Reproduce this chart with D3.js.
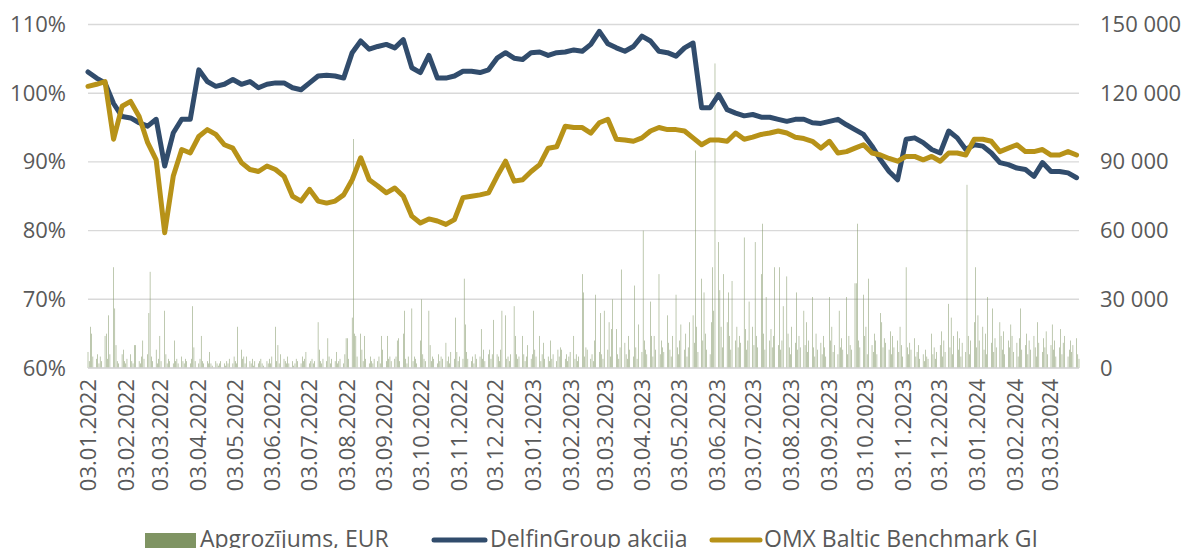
<!DOCTYPE html>
<html>
<head>
<meta charset="utf-8">
<script src="https://cdn.jsdelivr.net/npm/d3@7"></script>
<style>
  body { margin: 0; background: #fff; }
  svg { display: block; font-family: "Open Sans", sans-serif; }
</style>
</head>
<body>
<svg id="chart" width="1184" height="548"></svg>
<script>
var startDate = new Date(2022, 0, 3);
var endDate = new Date(2024, 2, 27);

// weekly level, % of 03.01.2022, one value every 7 days from startDate
var delfinPct = [
  103.1, 102.2, 101.5, 98.5, 96.6, 96.4, 95.7, 95.2, 96.2, 89.4,
  94.2, 96.2, 96.2, 103.4, 101.7, 101.0, 101.3, 102.0, 101.3, 101.7,
  100.8, 101.3, 101.5, 101.5, 100.8, 100.5, 101.5, 102.5, 102.6, 102.5,
  102.2, 105.9, 107.6, 106.4, 106.8, 107.1, 106.6, 107.8, 103.7, 103.0,
  105.5, 102.2, 102.2, 102.5, 103.2, 103.2, 103.0, 103.4, 105.1, 105.9,
  105.1, 104.9, 105.9, 106.0, 105.5, 105.9, 106.0, 106.3, 106.1, 107.1,
  109.0, 107.2, 106.6, 106.1, 106.8, 108.3, 107.6, 106.1, 105.9, 105.4,
  106.6, 107.3, 97.9, 97.9, 99.8, 97.6, 97.1, 96.7, 96.9, 96.5,
  96.5, 96.2, 95.9, 96.2, 96.2, 95.7, 95.6, 95.9, 96.2, 95.4,
  94.7, 94.0, 92.3, 90.3, 88.6, 87.4, 93.3, 93.5, 92.8, 91.8,
  91.3, 94.5, 93.5, 91.8, 92.5, 92.3, 91.3, 89.9, 89.6, 89.1,
  88.9, 87.9, 89.9, 88.6, 88.6, 88.4, 87.7
];

var omxPct = [
  101.0, 101.3, 101.7, 93.3, 98.1, 98.8, 96.6, 92.8, 90.3, 79.7,
  87.9, 91.8, 91.3, 93.7, 94.7, 94.0, 92.5, 92.0, 89.9, 88.9,
  88.6, 89.4, 88.9, 87.9, 85.0, 84.3, 86.0, 84.3, 84.0, 84.3,
  85.2, 87.4, 90.6, 87.4, 86.5, 85.5, 86.2, 85.0, 82.1, 81.1,
  81.7, 81.4, 80.9, 81.6, 84.8, 85.0, 85.2, 85.5, 87.9, 90.1,
  87.2, 87.4, 88.6, 89.6, 92.0, 92.2, 95.2, 95.0, 95.0, 94.2,
  95.7, 96.2, 93.3, 93.2, 93.0, 93.5, 94.5, 95.0, 94.7, 94.7,
  94.5, 93.5, 92.5, 93.2, 93.2, 93.0, 94.2, 93.3, 93.6, 94.0,
  94.2, 94.5, 94.2, 93.6, 93.4, 93.0, 92.0, 93.0, 91.3, 91.5,
  92.0, 92.5, 91.3, 91.0, 90.5, 90.1, 90.8, 90.8, 90.3, 90.8,
  90.1, 91.3, 91.3, 91.0, 93.3, 93.3, 93.0, 91.5, 92.0, 92.5,
  91.5, 91.5, 91.8, 91.0, 91.0, 91.5, 91.0
];

// daily turnover, thousand EUR, one per trading day (Mon-Fri) from startDate
var turnoverK = [
  7, 3, 18, 15, 5, 4, 6, 2, 5, 3,
  14, 15, 4, 23, 6, 44, 26, 10, 3, 2,
  6, 8, 3, 2, 4, 6, 3, 2, 10, 10,
  3, 2, 5, 12, 4, 6, 24, 42, 5, 3,
  8, 2, 4, 14, 3, 25, 6, 2, 4, 3,
  2, 12, 3, 4, 2, 5, 3, 2, 4, 3,
  2, 4, 27, 9, 3, 2, 4, 14, 3, 2,
  3, 2, 7, 2, 1, 3, 2, 1, 2, 3,
  2, 1, 3, 2, 4, 2, 5, 3, 2, 18,
  8, 4, 5, 2, 5, 3, 2, 4, 1, 3,
  2, 3, 4, 2, 1, 3, 2, 4, 2, 5,
  18, 3, 10, 2, 6, 4, 3, 2, 5, 2,
  3, 1, 2, 4, 3, 2, 5, 3, 4, 7,
  2, 3, 4, 2, 3, 20, 8, 3, 2, 4,
  3, 13, 5, 2, 4, 3, 7, 2, 3, 4,
  2, 6, 13, 13, 4, 22, 100, 15, 14, 5,
  15, 8, 3, 14, 4, 2, 5, 3, 2, 4,
  3, 5, 2, 14, 8, 3, 14, 4, 5, 3,
  4, 5, 12, 13, 3, 15, 25, 4, 2, 5,
  26, 3, 5, 4, 2, 12, 30, 6, 4, 3,
  25, 10, 3, 5, 4, 2, 6, 3, 5, 4,
  11, 3, 5, 2, 7, 4, 22, 7, 3, 5,
  4, 39, 19, 7, 4, 3, 5, 2, 6, 4,
  5, 17, 4, 8, 3, 6, 8, 4, 6, 21,
  6, 5, 3, 8, 25, 23, 4, 5, 3, 6,
  27, 14, 6, 4, 5, 14, 6, 3, 5, 10,
  4, 6, 25, 8, 5, 14, 3, 6, 11, 4,
  5, 3, 12, 4, 6, 3, 8, 5, 9, 8,
  4, 6, 3, 5, 7, 14, 4, 6, 3, 5,
  41, 33, 5, 9, 8, 4, 6, 3, 12, 32,
  7, 24, 6, 4, 25, 8, 20, 5, 17, 30,
  17, 6, 4, 9, 43, 11, 6, 4, 14, 8,
  5, 36, 9, 4, 19, 7, 60, 12, 8, 6,
  29, 14, 5, 14, 8, 41, 6, 12, 9, 7,
  23, 11, 8, 5, 14, 32, 9, 6, 12, 19,
  8, 15, 5, 9, 20, 23, 11, 95, 18, 7,
  39, 12, 33, 15, 8, 6, 20, 44, 25, 133,
  55, 34, 18, 9, 41, 20, 33, 14, 8, 38,
  12, 18, 9, 14, 11, 57, 17, 8, 12, 29,
  18, 10, 55, 14, 9, 41, 63, 15, 8, 31,
  12, 17, 9, 14, 44, 10, 44, 8, 12, 27,
  40, 15, 9, 6, 18, 11, 33, 8, 14, 9,
  25, 10, 20, 7, 12, 31, 9, 5, 15, 8,
  11, 6, 14, 9, 5, 31, 12, 18, 7, 10,
  6, 25, 9, 13, 8, 31, 6, 14, 10, 8,
  37, 37, 63, 12, 9, 32, 14, 18, 6, 39,
  10, 7, 15, 12, 6, 24, 20, 9, 13, 11,
  8, 16, 6, 14, 9, 12, 7, 18, 10, 5,
  44, 9, 6, 11, 8, 13, 5, 7, 10, 4,
  6, 3, 8, 5, 4, 15, 6, 9, 4, 7,
  10, 16, 5, 12, 7, 28, 9, 22, 6, 14,
  16, 8, 13, 5, 11, 7, 80, 14, 6, 12,
  20, 44, 9, 23, 12, 18, 8, 15, 6, 31,
  11, 26, 7, 13, 9, 20, 14, 8, 16, 6,
  12, 9, 19, 14, 7, 11, 5, 13, 26, 8,
  10, 15, 6, 12, 8, 14, 9, 5, 20, 11,
  7, 13, 9, 16, 6, 10, 19, 8, 12, 5,
  9, 17, 6, 11, 14, 5, 8, 12, 7, 10,
  13, 6, 4
];

var leftTicks = [60, 70, 80, 90, 100, 110];
var rightTicks = [0, 30000, 60000, 90000, 120000, 150000];
var legendNames = ["Apgrozījums, EUR", "DelfinGroup akcija", "OMX Baltic Benchmark GI"];

var colors = {bar: "#7F9463", delfin: "#314C6C", omx: "#B79218", grid: "#D9D9D9", text: "#595959"};

var plot = {left: 88, right: 1079, top: 24.5, bottom: 368};

var svg = d3.select("#chart");

var x = d3.scaleTime()
  .domain([startDate, endDate])
  .range([plot.left, plot.right]);

var yPct = d3.scaleLinear()
  .domain([60, 110])
  .range([plot.bottom, plot.top]);

var yVol = d3.scaleLinear()
  .domain([0, 150000])
  .range([plot.bottom, plot.top]);

//month ticks sit on the 3rd of every month
var monthTicks = d3.range(27).map(function(i) {
  return new Date(2022, i, 3);
});

var tradingDays = d3.timeDay.range(startDate, d3.timeDay.offset(endDate, 1))
  .filter(function(d) { return d.getDay() % 6 != 0; });

var volData = turnoverK.map(function(v, i) {
  return {date: tradingDays[i], value: v * 1000};
});

function weekly(values) {
  return values.map(function(v, i) {
    return {date: d3.timeDay.offset(startDate, 7 * i), value: v};
  });
};

//grid
svg.append("g")
  .selectAll("line")
  .data(leftTicks)
  .enter()
  .append("line")
    .attr("x1", plot.left)
    .attr("x2", plot.right)
    .attr("y1", function(d) { return yPct(d); })
    .attr("y2", function(d) { return yPct(d); })
    .attr("stroke", colors.grid)
    .attr("stroke-width", 1.4);

//turnover bars, thin like excel's gap width
var barW = (x(d3.timeDay.offset(startDate, 1)) - x(startDate)) * 0.42;

svg.append("g")
  .selectAll("rect")
  .data(volData)
  .enter()
  .append("rect")
    .attr("x", function(d) { return x(d.date) - barW / 2; })
    .attr("width", barW)
    .attr("y", function(d) { return yVol(d.value); })
    .attr("height", function(d) { return plot.bottom - yVol(d.value); })
    .attr("fill", colors.bar);

var line = d3.line()
  .x(function(d) { return x(d.date); })
  .y(function(d) { return yPct(d.value); });

svg.append("path")
  .datum(weekly(delfinPct))
  .attr("d", line)
  .attr("fill", "none")
  .attr("stroke", colors.delfin)
  .attr("stroke-width", 5)
  .attr("stroke-linejoin", "round")
  .attr("stroke-linecap", "round");

svg.append("path")
  .datum(weekly(omxPct))
  .attr("d", line)
  .attr("fill", "none")
  .attr("stroke", colors.omx)
  .attr("stroke-width", 5)
  .attr("stroke-linejoin", "round")
  .attr("stroke-linecap", "round");

//axes
var leftAxis = svg.append("g")
  .attr("transform", "translate(" + plot.left + ",0)")
  .call(d3.axisLeft(yPct)
    .tickValues(leftTicks)
    .tickFormat(function(d) { return d + "%"; })
    .tickSize(0)
    .tickPadding(22));

var rightAxis = svg.append("g")
  .attr("transform", "translate(" + plot.right + ",0)")
  .call(d3.axisRight(yVol)
    .tickValues(rightTicks)
    .tickFormat(function(d) { return d3.format(",")(d).replace(/,/g, " "); })
    .tickSize(0)
    .tickPadding(21));

var bottomAxis = svg.append("g")
  .attr("transform", "translate(0," + plot.bottom + ")")
  .call(d3.axisBottom(x)
    .tickValues(monthTicks)
    .tickFormat(d3.timeFormat("%d.%m.%Y"))
    .tickSize(0));

bottomAxis.selectAll("text")
  .attr("transform", "rotate(-90)")
  .attr("text-anchor", "end")
  .attr("x", -11)
  .attr("y", 0)
  .attr("dy", "0.36em");

[leftAxis, rightAxis, bottomAxis].forEach(function(a) {
  a.select(".domain").remove();
  a.selectAll("text")
    .attr("fill", colors.text)
    .style("font-size", "22px")
    .style("font-family", "'Open Sans', sans-serif");
});

//bottom axis line
svg.append("line")
  .attr("x1", plot.left)
  .attr("x2", plot.right)
  .attr("y1", plot.bottom)
  .attr("y2", plot.bottom)
  .attr("stroke", colors.grid)
  .attr("stroke-width", 1.4);

//legend, sitting on the bottom edge like the original
var legend = svg.append("g").style("font-size", "23px").attr("fill", colors.text);

legend.append("rect")
  .attr("x", 145).attr("y", 533).attr("width", 51).attr("height", 16)
  .attr("fill", colors.bar);

legend.append("line")
  .attr("x1", 434).attr("x2", 485).attr("y1", 540).attr("y2", 540)
  .attr("stroke", colors.delfin).attr("stroke-width", 5).attr("stroke-linecap", "round");

legend.append("line")
  .attr("x1", 712).attr("x2", 760).attr("y1", 540).attr("y2", 540)
  .attr("stroke", colors.omx).attr("stroke-width", 5).attr("stroke-linecap", "round");

legend.selectAll("text")
  .data(legendNames)
  .enter()
  .append("text")
    .attr("x", function(d, i) { return [200, 490, 764][i]; })
    .attr("y", 547)
    .text(function(d) { return d; });
</script>
</body>
</html>
